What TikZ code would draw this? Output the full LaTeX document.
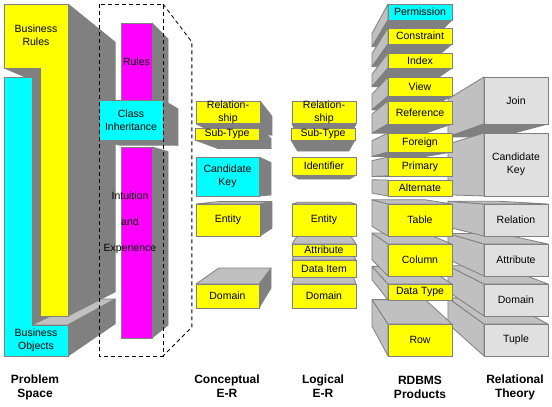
\documentclass[tikz,border=0pt]{standalone}
\usepackage{fontspec}
\setmainfont{Liberation Sans}
\usetikzlibrary{calc}

\definecolor{dark}{HTML}{808080}
\definecolor{lite}{HTML}{C0C0C0}
\definecolor{pale}{HTML}{E0E0E0}
\definecolor{ybox}{RGB}{255,255,0}
\definecolor{cbox}{RGB}{0,255,255}
\definecolor{mbox}{RGB}{255,0,255}

\pgfdeclarelayer{background}
\pgfsetlayers{background,main}

% one receding face between two front corners, pulled towards (V) by \dep
\newcommand{\side}[3]{%
  \filldraw[face, fill=#3] (#1) -- (#2) -- ($(#2)!\dep!(V)$) -- ($(#1)!\dep!(V)$) -- cycle;}
\newcommand{\topside}[1]{\side{#1.north west}{#1.north east}{lite}}
\newcommand{\botside}[1]{\side{#1.south west}{#1.south east}{dark}}
\newcommand{\leftside}[1]{\side{#1.north west}{#1.south west}{lite}}
\newcommand{\rightside}[1]{\side{#1.north east}{#1.south east}{dark}}

\tikzset{
  face/.style={draw=dark, line width=0.8pt, line join=round},
  blk/.style={draw=dark, line width=1pt, anchor=north west, inner sep=0pt, outer sep=0pt,
    minimum width=64pt, align=center, font=\fontsize{10.5}{13}\selectfont},
  yblk/.style={blk, fill=ybox},
  cblk/.style={blk, fill=cbox},
  mblk/.style={blk, fill=mbox, minimum width=31pt},
  gblk/.style={blk, fill=pale},
  txt/.style={align=center, inner sep=0pt, font=\fontsize{10.5}{13}\selectfont},
  head/.style={align=center, inner sep=0pt, font=\fontsize{12}{14}\selectfont\bfseries},
  dbox/.style={dash pattern=on 4pt off 3pt, line width=0.8pt},
}

\begin{document}
\begin{tikzpicture}[x=1pt, y=-1pt]
\useasboundingbox (0,0) rectangle (552,407);

% Problem space
\coordinate (V) at (304,195); \def\dep{0.2}
\coordinate (bo1) at (4,77);  \coordinate (bo2) at (32,77);  \coordinate (bo3) at (32,325);
\coordinate (bo4) at (68,325); \coordinate (bo5) at (68,356); \coordinate (bo6) at (4,356);
\coordinate (br1) at (4,4);   \coordinate (br2) at (68,4);   \coordinate (br3) at (68,316);
\coordinate (br4) at (40,316); \coordinate (br5) at (40,68);  \coordinate (br6) at (4,68);
\begin{pgfonlayer}{background}
  \side{bo2}{bo3}{dark}
  \side{bo3}{bo4}{lite}
  \side{bo4}{bo5}{dark}
  \side{br2}{br3}{dark}
  \side{br6}{br5}{dark}
\end{pgfonlayer}
\filldraw[draw=dark, line width=1pt, fill=cbox] (bo1) -- (bo2) -- (bo3) -- (bo4) -- (bo5) -- (bo6) -- cycle;
\filldraw[draw=dark, line width=1pt, fill=ybox] (br1) -- (br2) -- (br3) -- (br4) -- (br5) -- (br6) -- cycle;
\node[txt] (brtext) at (36,35.5) {Business\\Rules};
\node[txt] (botext) at (36,340) {Business\\Objects};

% Classes and intuition
\coordinate (V) at (326,197); \def\dep{0.092}
\node[mblk, minimum height=77pt] (rules) at (121,23) {Rules};
\node[cblk, minimum height=40pt] (ci) at (99,100) {Class\\Inheritance};
\node[mblk, minimum height=191pt] (intu) at (121,147) {};
\node[txt] (intutext) at (130,223) {Intuition\\[13pt]and\\[13pt]Experience};
\begin{pgfonlayer}{background}
  \rightside{rules} \botside{rules}
  \rightside{ci} \botside{ci}
  \rightside{intu}
\end{pgfonlayer}

% Conceptual E-R
\coordinate (V) at (330,190); \def\dep{0.17}
\node[yblk, minimum height=22pt] (crel) at (196,101) {Relation-\\ship};
\node[yblk, minimum height=12pt] (csub) at (195,128) {Sub-Type};
\node[cblk, minimum height=39pt, minimum width=63pt] (ckey) at (196,157) {Candidate\\Key};
\node[yblk, minimum height=32pt] (cent) at (196,204) {Entity};
\node[yblk, minimum height=24pt, minimum width=63pt] (cdom) at (196,284) {Domain};
\begin{pgfonlayer}{background}
  \foreach \n in {crel,csub} {\rightside{\n} \botside{\n}}
  \foreach \n in {cdom,cent} {\rightside{\n} \topside{\n}}
  \rightside{ckey}
\end{pgfonlayer}

% Logical E-R
\coordinate (V) at (324,195); \def\dep{0.2}
\node[yblk, minimum height=22pt] (lrel) at (292,101) {Relation-\\ship};
\node[yblk, minimum height=12pt] (lsub) at (291,128) {Sub-Type};
\node[yblk, minimum height=18pt] (lid) at (292,157) {Identifier};
\node[yblk, minimum height=32pt] (lent) at (292,204) {Entity};
\node[yblk, minimum height=12pt] (latt) at (292,244) {Attribute};
\node[yblk, minimum height=17pt] (litem) at (292,260) {Data Item};
\node[yblk, minimum height=24pt] (ldom) at (292,284) {Domain};
\begin{pgfonlayer}{background}
  \foreach \n in {lrel,lsub,lid} {\botside{\n}}
  \foreach \n in {ldom,litem,latt,lent} {\topside{\n}}
\end{pgfonlayer}

% Relational theory
\coordinate (V) at (299,190); \def\dep{0.195}
\node[gblk, minimum height=47pt] (join) at (484,77) {Join};
\node[gblk, minimum height=63pt] (rkey) at (484,133) {Candidate\\Key};
\node[gblk, minimum height=32pt] (rrel) at (484,204) {Relation};
\node[gblk, minimum height=32pt] (ratt) at (484,244) {Attribute};
\node[gblk, minimum height=32pt] (rdom) at (484,284) {Domain};
\node[gblk, minimum height=32pt] (tup) at (484,324) {Tuple};
\begin{pgfonlayer}{background}
  \leftside{join} \botside{join}
  \leftside{rkey}
  \foreach \n in {tup,rdom,ratt,rrel} {\leftside{\n} \topside{\n}}
\end{pgfonlayer}

% RDBMS products
\coordinate (V) at (293,179); \def\dep{0.168}
\node[cblk, minimum height=16pt] (perm) at (388,4) {Permission};
\node[yblk, minimum height=16pt] (cons) at (388,28) {Constraint};
\node[yblk, minimum height=15pt] (idx) at (388,53) {Index};
\node[yblk, minimum height=19pt] (view) at (388,77) {View};
\node[yblk, minimum height=23pt] (ref) at (388,101) {Reference};
\node[yblk, minimum height=19pt] (fgn) at (388,133) {Foreign};
\node[yblk, minimum height=19pt] (prim) at (388,157) {Primary};
\node[yblk, minimum height=16pt] (alt) at (388,180) {Alternate};
\node[yblk, minimum height=32pt] (tbl) at (388,204) {Table};
\node[yblk, minimum height=32pt] (col) at (388,244) {Column};
\node[yblk, minimum height=16pt] (dtype) at (388,284) {Data Type};
\node[yblk, minimum height=32pt] (row) at (388,324) {Row};
\begin{pgfonlayer}{background}
  \foreach \n in {perm,cons,idx,view,ref,fgn,prim} {\leftside{\n} \botside{\n}}
  \leftside{alt}
  \foreach \n in {row,dtype,col,tbl} {\leftside{\n} \topside{\n}}
\end{pgfonlayer}

% dashed frame round the middle block
\coordinate (V) at (315,204); \def\dep{0.19}
\coordinate (dtl) at (99,4); \coordinate (dtr) at (163,4); \coordinate (dbr) at (163,356);
\draw[dbox] (dtl) rectangle (dbr);
\draw[dbox] (dtr) -- ($(dtr)!\dep!(V)$) -- ($(dbr)!\dep!(V)$) -- (dbr);

% column headings
\node[head] (hprob) at (35,387) {Problem\\Space};
\node[head] (hconc) at (227,386) {Conceptual\\E-R};
\node[head] (hlog) at (323,386) {Logical\\E-R};
\node[head] (hrdb) at (420,387) {RDBMS\\Products};
\node[head] (hrel) at (515,387) {Relational\\Theory};
\end{tikzpicture}
\end{document}
